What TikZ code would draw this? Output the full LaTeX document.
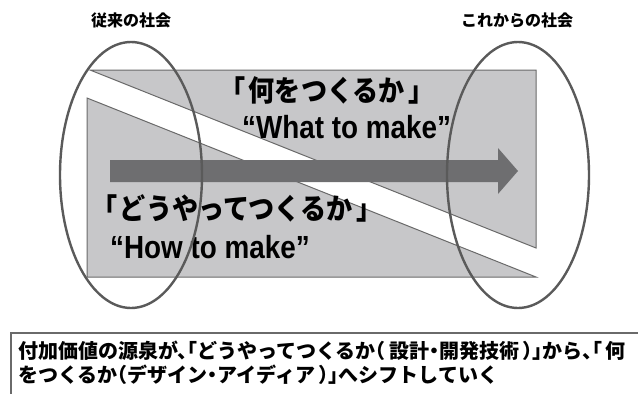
\documentclass[tikz,border=0pt]{standalone}
\usepackage{fontspec}
\usepackage{graphicx}
\usetikzlibrary{shapes.geometric}
\newfontfamily\jp{Noto Sans CJK JP}
\newfontfamily\jph{Noto Sans CJK JP}[RawFeature=+halt]
\newfontfamily\en{Liberation Sans}
\definecolor{triFill}{HTML}{C7C7C9}
\definecolor{triLine}{HTML}{6A6A6A}
\definecolor{arrFill}{HTML}{6E6E70}
\definecolor{ellLine}{HTML}{5A5A5A}
\definecolor{boxLine}{HTML}{6A6A6A}
\tikzset{
  tri/.style={fill=triFill, draw=triLine, line width=1pt, line join=miter},
  bigarrow/.style={fill=arrFill, draw=none},
  society/.style={ellipse, draw=ellLine, line width=2.4pt, inner sep=0pt,
                  minimum width=142pt, minimum height=266pt},
  header/.style={font=\jp\bfseries\fontsize{16}{18}\selectfont, inner sep=0pt},
  jplabel/.style={font=\jph\bfseries\fontsize{29}{34}\selectfont, inner sep=0pt, anchor=west},
  enlabel/.style={font=\en\bfseries\fontsize{32}{36}\selectfont, inner sep=0pt, anchor=base west},
  note/.style={font=\jph\bfseries\fontsize{20}{24}\selectfont, inner sep=0pt, anchor=base west,
               text height=15pt, text depth=3pt}
}
\begin{document}
\begin{tikzpicture}[x=1pt,y=-1pt]
\useasboundingbox (0,0) rectangle (638,394);
% triangles
\draw[tri] (90,70) -- (536,70) -- (536,248) -- cycle;
\draw[tri] (87,98) -- (87,277) -- (536,277) -- cycle;
% arrow
\fill[bigarrow] (110,160) -- (498,160) -- (498,148) -- (518,171) -- (498,194) -- (498,182) -- (110,182) -- cycle;
% labels
\node[jplabel] (what-jp) at (232,90) {\scalebox{0.9}[1]{「\hspace{4pt}何をつくるか\hspace{4pt}」}};
\node[enlabel] (what-en) at (242,138) {\scalebox{0.87}[1]{“What to make”}};
\node[jplabel] (how-jp) at (104,208) {\scalebox{0.9}[1]{「\hspace{3pt}どうやってつくるか\hspace{5pt}」}};
\node[enlabel] (how-en) at (110,258) {\scalebox{0.87}[1]{“How to make”}};
% ellipses
\node[society] (old) at (131,175) {};
\node[society] (new) at (518,175) {};
\node[header] (old-h) at (131,20) {従来の社会};
\node[header] (new-h) at (517,20) {これからの社会};
% bottom box
\draw[boxLine, line width=2pt] (645,333) -- (11,333) -- (11,400);
\node[note] (line1) at (18,358.5) {付加価値の源泉が、「どうやってつくるか（\,設計・開発技術\,）」から、「\,何};
\node[note] (line2) at (18,382.5) {をつくるか（デザイン・アイディア\,）」へシフトしていく};
\end{tikzpicture}
\end{document}
